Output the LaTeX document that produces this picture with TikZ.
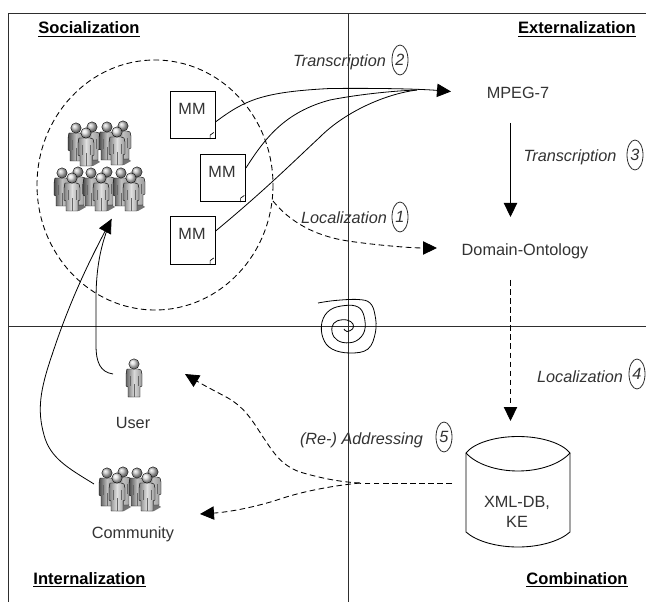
\documentclass[tikz,border=0pt]{standalone}
\usepackage{fontspec}
\setmainfont{Liberation Sans}
\usetikzlibrary{arrows.meta,shapes.geometric}
\definecolor{ink}{HTML}{2E2E2E}
\definecolor{txt}{HTML}{333333}
\tikzset{
  x=0.75pt,y=-0.75pt,
  frame/.style={draw=ink,line width=0.7pt},
  wire/.style={draw=black,line width=0.6pt},
  dashwire/.style={draw=black,line width=0.65pt,dash pattern=on 4.2pt off 2.6pt},
  bighead/.style={-{Triangle[length=10.5pt,width=10pt]}},
  lbl/.style={anchor=base,text=txt,font=\fontsize{12.2}{14}\selectfont,inner sep=0pt},
  ilbl/.style={lbl,font=\fontsize{12.2}{14}\selectfont\itshape},
  corner/.style={anchor=base,text=black,font=\fontsize{12.4}{14}\selectfont\bfseries,inner sep=0pt},
  num/.style={draw=ink,ellipse,line width=0.6pt,minimum width=12pt,minimum height=22.5pt,inner sep=0pt,text=txt,font=\fontsize{12.2}{14}\selectfont\itshape},
  mmbox/.style={draw=black,line width=0.65pt,fill=white,minimum width=33.75pt,minimum height=35.5pt,inner sep=0pt},
  mmtext/.style={lbl},
}
\newcommand\crowdman[4]{%
  \begin{scope}[shift={(#1,#2)}]
    \path[draw=black,line width=0.3pt,left color=#3,right color=black!40,middle color=#4]
      (-7,5) to[out=0,in=180] (-4,5) -- (4,5) to[out=0,in=180] (7,6) -- (8,10) -- (8,22) -- (6,23) -- (6,33) -- (-6,33) -- (-6,23) -- (-8,22) -- (-8,10) -- cycle;
    \draw[black!60,line width=0.3pt] (0,20) -- (0,33);
    \draw[black!60,line width=0.3pt] (-4,12) -- (-4,22) (4,12) -- (4,22);
    \shade[ball color=#4,draw=black,line width=0.25pt] (0,0) circle[radius=5.2];
  \end{scope}}
\newcommand\manshadow[2]{\fill[black!55] (#1-2,#2+33) -- (#1+6,#2+33) -- (#1+13,#2+29) -- (#1+8,#2+25) -- cycle;}
\newcommand\trio[2]{%
  \manshadow{#1+11}{#2+5}
  \crowdman{#1}{#2}{black!70}{black!25}
  \crowdman{#1+16}{#2-1}{black!70}{black!25}
  \crowdman{#1+10}{#2+5}{black!50}{black!12}}
\begin{document}
\begin{tikzpicture}
\useasboundingbox (0,0) rectangle (646,602);
\fill[white] (0,0) rectangle (646,602);
% frame and axes
\coordinate (tl) at (8.5,13.5);
\coordinate (tr) at (646,13.5);
\coordinate (bl) at (8.5,602);
\coordinate (ml) at (8.5,326);
\coordinate (mr) at (646,326);
\coordinate (mt) at (348.5,13.5);
\coordinate (mb) at (348.5,602);
\draw[frame] (bl) -- (tl) -- (tr);
\draw[frame] (ml) -- (mr);
\draw[frame] (mt) -- (mb);
% corners
\node[corner] (soc) at (89,34) {\underline{Socialization}};
\node[corner] (ext) at (577,34) {\underline{Externalization}};
\node[corner] (int) at (89.5,584) {\underline{Internalization}};
\node[corner] (com) at (577,584) {\underline{Combination}};
% circle
\draw[dashwire] (155,185) ellipse[x radius=118,y radius=125];
% MM documents
\node[mmbox] (mm1) at (192.5,115) {};
\node[mmbox] (mm2) at (223,178) {};
\node[mmbox] (mm3) at (192.5,240.5) {};
\node[mmtext] (mm1t) at (192,115) {MM};
\node[mmtext] (mm2t) at (222,178) {MM};
\node[mmtext] (mm3t) at (192,240) {MM};
\foreach \n in {mm1,mm2,mm3}{
  \draw[black,line width=0.5pt] ([xshift=-1.2pt,yshift=5pt]\n.south east) -- ([xshift=-4pt,yshift=3pt]\n.south east) -- ([xshift=-4pt,yshift=0pt]\n.south east);
}
% groups
\trio{76}{128}
\trio{107}{127}
\trio{62}{173}
\trio{91}{173}
\trio{121}{173}
% user and community
\crowdman{134}{364}{black!60}{black!15}
\trio{107}{473}
\trio{137}{473}
\node[lbl] (user) at (133,428) {User};
\node[lbl] (comm) at (133,538) {Community};
\coordinate (userport) at (113,374);
\coordinate (commport) at (94,484);
\coordinate (grp) at (111.5,219);
% targets
\node[lbl] (mpeg) at (518,99) {MPEG-7};
\node[lbl] (dom) at (525,256) {Domain-Ontology};
\coordinate (mpegin) at (451,91.5);
\coordinate (domin) at (437,248);
\coordinate (mpegout) at (510.5,123);
\coordinate (domtop) at (510.5,217);
\coordinate (domout) at (510.5,280);
\coordinate (dbtop) at (510.5,421);
% curves from MM to MPEG-7
\draw[wire,bighead] ([yshift=-5.25pt]mm1.east) .. controls (245,100) and (262,92) .. (330,88.5) .. controls (380,88) and (420,89) .. (mpegin);
\draw[wire] ([yshift=7.5pt]mm2.east) .. controls (265,138) and (285,112) .. (330,100) .. controls (355,95) and (390,91) .. (417,90);
\draw[wire] ([yshift=7pt]mm3.east) .. controls (265,190) and (290,165) .. (320,137) .. controls (345,112) and (385,94) .. (417,90);
% localization 1
\coordinate (circ) at (273,201);
\draw[dashwire,bighead] (circ) .. controls (290,222) and (315,236) .. (348,241) .. controls (375,245) and (410,248) .. (domin);
% vertical arrows
\draw[line width=0.7pt,draw=black,bighead] (mpegout) -- (domtop);
\draw[dashwire,bighead] (domout) -- (dbtop);
% labels
\node[ilbl] (l2) at (339.5,67) {Transcription};
\node[num] (n2) at (400,60) {2};
\node[ilbl] (l1) at (344,224) {Localization};
\node[num] (n1) at (400,217) {1};
\node[ilbl] (l3) at (570,162) {Transcription};
\node[num] (n3) at (635,155) {3};
\node[ilbl] (l4) at (580,382) {Localization};
\node[num] (n4) at (637,374) {4};
\node[ilbl] (l5) at (361.5,444) {(Re-) Addressing};
\node[num] (n5) at (444,437) {5};
% database
\draw[draw=black,line width=0.65pt,fill=white] (466,453) .. controls (474,443) and (495,436.5) .. (518,436.5) .. controls (541,436.5) and (562,443) .. (570,453) -- (570,532) .. controls (560,541) and (540,547) .. (518,547) .. controls (496,547) and (476,541) .. (466,532) -- cycle;
\draw[draw=black,line width=0.65pt] (466,453) .. controls (476,464) and (496,471) .. (518,471) .. controls (540,471) and (560,464) .. (570,453);
\node[lbl] (db1) at (517,507) {XML-DB,};
\node[lbl] (db2) at (517,527) {KE};
\coordinate (dbport) at (452,483);
\coordinate (split) at (360,483);
\coordinate (usertip) at (185,374);
\coordinate (commtip) at (200,514);
% readdressing
\draw[dashwire] (dbport) -- (split);
\draw[dashwire,bighead] (split) .. controls (340,482) and (320,478) .. (300,472) .. controls (280,465) and (272,450) .. (263,437) .. controls (252,420) and (245,408) .. (228,398) .. controls (215,391) and (205,386) .. (usertip);
\draw[dashwire,bighead] (split) .. controls (330,486) and (300,492) .. (277,500) .. controls (255,507) and (230,512) .. (commtip);
% back to group
\draw[wire] (userport) .. controls (100,372) and (96,362) .. (96,345) -- (96,300) .. controls (96,270) and (100,245) .. (grp);
\draw[wire,bighead] (commport) .. controls (68,468) and (50,458) .. (44,435) .. controls (37,410) and (40,390) .. (52,355) .. controls (70,300) and (90,260) .. (grp);
% spiral
\coordinate (sp0) at (318,303);
\draw[wire] plot[smooth,tension=0.65] coordinates {(sp0) (335,300.5) (358,299.5) (370,303) (375,315) (375.5,332) (368,349) (350,353) (332,349) (323,338) (322,322) (330,310) (345,305.5) (358,307) (364,316) (364.5,331) (356,341) (343,342.5) (334,337) (332,327) (337,321) (347,320) (353,324) (352.5,329) (347,331.5) (344,329)};
\end{tikzpicture}
\end{document}
